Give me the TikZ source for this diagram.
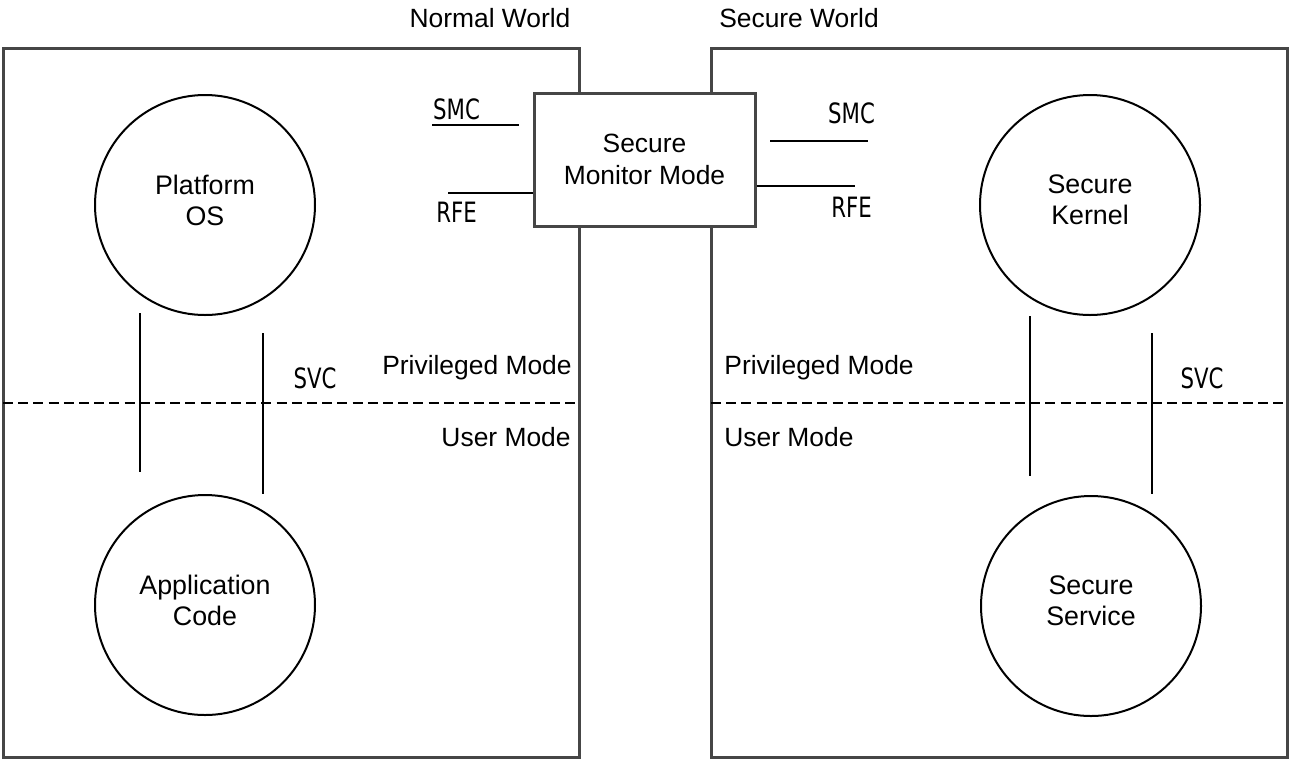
\documentclass[tikz,border=0pt]{standalone}
\usepackage{fontspec}
\setmainfont{Liberation Sans}
\newfontfamily\callfont[FakeStretch=0.76]{DejaVu Sans}
\usetikzlibrary{positioning}
\definecolor{worldgray}{RGB}{70,70,70}

\begin{document}
\begin{tikzpicture}[x=0.5pt, y=-0.5pt,
  world/.style={draw=worldgray, line width=1.5pt},
  proc/.style={circle, draw, line width=1pt, minimum size=110pt, inner sep=0pt, text depth=5pt, align=center, font=\fontsize{13.4}{15.5}\selectfont},
  lbl/.style={font=\fontsize{13.2}{16}\selectfont, inner sep=0pt},
  call/.style={font=\callfont\fontsize{14}{16}\selectfont, inner sep=0pt},
  link/.style={line width=1pt},
  modeline/.style={line width=1.4pt, dash pattern=on 5pt off 2.6pt}]
 \useasboundingbox (0,0) rectangle (1305,778);
 % the two worlds
 \draw[world] (3,48) rectangle (579,757);
 \draw[world] (711,48) rectangle (1287,757);
 \draw[modeline] (3,403) -- (579,403);
 \draw[modeline] (711,403) -- (1287,403);
 \node[lbl] (nworld) at (490,18) {Normal World};
 \node[lbl] (sworld) at (799,18) {Secure World};
 \node[lbl, anchor=east] (npriv) at (572,368) {Privileged Mode};
 \node[lbl, anchor=east] (nuser) at (571,437) {User Mode};
 \node[lbl, anchor=west] (spriv) at (724,368) {Privileged Mode};
 \node[lbl, anchor=west] (suser) at (724,437) {User Mode};
 % processes
 \node[proc] (platos) at (205,205) {Platform\\OS};
 \node[proc] (appcode) at (205,605) {Application\\Code};
 \node[proc] (skernel) at (1090,205) {Secure\\Kernel};
 \node[proc] (sservice) at (1091,606) {Secure\\Service};
 \node[lbl, draw=worldgray, fill=white, line width=1.5pt, minimum width=110.5pt, minimum height=66.5pt, align=center] (smm) at (644.5,159.5) {Secure\\Monitor Mode};
 % calls
 \node[call] (nsmc) at (456.5,109.5) {SMC};
 \node[call] (nrfe) at (456.5,212.5) {RFE};
 \node[call] (ssmc) at (851.5,113.5) {SMC};
 \node[call] (srfe) at (851.5,207) {RFE};
 \node[call] (nsvc) at (315,378) {SVC};
 \node[call] (ssvc) at (1202,378) {SVC};
 \coordinate (nsmc-a) at (432,125);
 \coordinate (nsmc-b) at (519,125);
 \coordinate (nrfe-a) at (448,193);
 \coordinate (ssmc-a) at (770,141);
 \coordinate (ssmc-b) at (868,141);
 \coordinate (srfe-b) at (855,186);
 \draw[link] (nsmc-a) -- (nsmc-b);
 \draw[link] (nrfe-a) -- (nrfe-a -| smm.west);
 \draw[link] (ssmc-a) -- (ssmc-b);
 \draw[link] (srfe-b -| smm.east) -- (srfe-b);
 \foreach \n/\x/\a/\b in {nl/140/313/472, nr/263/333/494, sl/1030/316/476, sr/1152/333/494}{
   \coordinate (\n-top) at (\x,\a);
   \coordinate (\n-bot) at (\x,\b);
   \draw[link] (\n-top) -- (\n-bot);
 }
\end{tikzpicture}
\end{document}
